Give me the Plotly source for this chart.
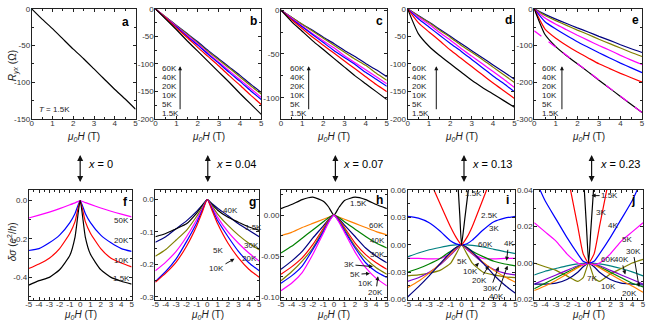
import plotly.graph_objects as go

W, H = 650, 329
FONT = "Liberation Sans, Arial, sans-serif"


def px(x):
    return x / W


def py(y):
    return 1 - y / H


# ---------------- data: top row (R_yx vs field) ----------------
XT = [0, 0.5, 1, 1.5, 2, 2.5, 3, 3.5, 4, 4.5, 5]
TEMPS_TOP = ["60K", "40K", "20K", "10K", "5K", "1.5K"]

a_1p5K = [0, -14, -27, -41, -55, -68, -82, -96, -110, -123, -137]

b_1p5K = [0, -19, -38, -58, -77, -96, -115, -134, -154, -173, -192]
b_5K = [0, -17, -35, -52, -70, -87, -104, -122, -139, -157, -174]
b_10K = [0, -17, -33, -50, -66, -83, -99, -116, -132, -149, -165]
b_20K = [0, -16, -32, -48, -64, -81, -97, -113, -129, -145, -161]
b_40K = [0, -15, -31, -46, -62, -78, -93, -108, -124, -140, -155]
b_60K = [0, -15, -30, -45, -60, -76, -91, -106, -121, -137, -152]

c_1p5K = [0, -13, -24, -35, -45, -55, -65, -75, -84, -93, -102]
c_5K = [0, -11, -21, -31, -40, -49, -58, -67, -76, -85, -93]
c_10K = [0, -10, -19, -28, -37, -46, -54, -62, -71, -79, -87]
c_20K = [0, -9, -18, -27, -35, -43, -52, -60, -68, -76, -84]
c_40K = [0, -8, -16, -24, -32, -40, -48, -56, -63, -72, -80]
c_60K = [0, -8, -16, -23, -31, -38, -46, -53, -61, -68, -76]

d_1p5K = [0, -45, -68, -85, -100, -115, -130, -143, -155, -167, -179]
d_5K = [0, -25, -42, -58, -75, -90, -105, -120, -135, -149, -163]
d_10K = [0, -18, -33, -48, -63, -77, -92, -107, -122, -136, -151]
d_20K = [0, -15, -28, -43, -57, -72, -86, -100, -114, -128, -143]
d_40K = [0, -13, -25, -39, -52, -66, -79, -92, -106, -120, -134]
d_60K = [0, -12, -24, -37, -50, -63, -76, -89, -102, -115, -128]

e_1p5K = [0, -70, -103, -128, -150, -172, -195, -217, -239, -261, -283]
e_5K = [0, -55, -80, -100, -118, -134, -150, -163, -176, -188, -200]
e_10K = [0, -35, -55, -73, -90, -105, -120, -134, -148, -161, -174]
e_20K = [0, -25, -42, -57, -72, -86, -100, -113, -127, -140, -152]
e_40K = [0, -18, -32, -45, -58, -70, -83, -95, -107, -119, -130]
e_60K = [0, -15, -28, -40, -52, -63, -75, -86, -98, -109, -119]
e_fit_x = [0, 5]
e_fit_y = [-60, -283]

# ---------------- data: bottom row (delta sigma vs field) ----------------
XB = [-5, -4, -3, -2, -1, -0.5, 0, 0.5, 1, 2, 3, 4, 5]

f_50K = [-0.091, -0.076, -0.060, -0.042, -0.022, -0.012, 0, -0.011, -0.020, -0.039, -0.056, -0.071, -0.085]
f_20K = [-0.26, -0.25, -0.22, -0.18, -0.115, -0.067, 0, -0.067, -0.115, -0.18, -0.22, -0.25, -0.265]
f_10K = [-0.354, -0.33, -0.30, -0.25, -0.17, -0.11, 0, -0.11, -0.17, -0.25, -0.30, -0.325, -0.345]
f_1p5K = [-0.44, -0.417, -0.40, -0.36, -0.285, -0.19, 0, -0.19, -0.28, -0.36, -0.40, -0.42, -0.435]

g_40K = [-0.132, -0.115, -0.09, -0.066, -0.036, -0.018, 0, -0.014, -0.027, -0.05, -0.075, -0.095, -0.115]
g_1p5K = [-0.115, -0.105, -0.09, -0.075, -0.041, -0.02, 0, -0.017, -0.033, -0.055, -0.07, -0.085, -0.095]
g_30K = [-0.175, -0.154, -0.125, -0.095, -0.051, -0.025, 0, -0.022, -0.045, -0.08, -0.11, -0.135, -0.155]
g_20K = [-0.22, -0.193, -0.16, -0.115, -0.061, -0.03, 0, -0.027, -0.055, -0.1, -0.135, -0.165, -0.19]
g_5K = [-0.253, -0.222, -0.183, -0.13, -0.071, -0.035, 0, -0.032, -0.065, -0.115, -0.16, -0.195, -0.22]
g_10K = [-0.255, -0.227, -0.193, -0.144, -0.08, -0.04, 0, -0.037, -0.075, -0.135, -0.18, -0.215, -0.24]

h_1p5K = [0.008, 0.013, 0.019, 0.022, 0.017, 0.01, 0, 0.01, 0.018, 0.022, 0.019, 0.013, 0.008]
h_60K = [-0.025, -0.021, -0.015, -0.01, -0.005, -0.0025, 0, -0.0025, -0.005, -0.01, -0.015, -0.02, -0.024]
h_40K = [-0.046, -0.038, -0.028, -0.018, -0.008, -0.003, 0, -0.003, -0.008, -0.017, -0.026, -0.034, -0.04]
h_30K = [-0.066, -0.056, -0.044, -0.028, -0.013, -0.005, 0, -0.005, -0.012, -0.026, -0.04, -0.05, -0.058]
h_3K = [-0.072, -0.063, -0.052, -0.036, -0.016, -0.006, 0, -0.006, -0.015, -0.034, -0.048, -0.058, -0.066]
h_10K = [-0.08, -0.069, -0.056, -0.04, -0.018, -0.007, 0, -0.007, -0.017, -0.038, -0.053, -0.064, -0.072]
h_5K = [-0.083, -0.074, -0.062, -0.042, -0.02, -0.008, 0, -0.008, -0.019, -0.04, -0.058, -0.069, -0.076]
h_20K = [-0.092, -0.083, -0.07, -0.048, -0.022, -0.009, 0, -0.009, -0.021, -0.045, -0.064, -0.077, -0.086]

i_1p5K_x = [-0.5, -0.3, -0.15, 0, 0.3, 0.55, 0.8]
i_1p5K = [0.1, 0.06, 0.03, 0, 0.028, 0.052, 0.075]
i_2p5K = [0.13, 0.10, 0.072, 0.045, 0.019, 0.008, 0, 0.008, 0.02, 0.05, 0.08, 0.11, 0.14]
i_3K = [0.031, 0.029, 0.024, 0.015, 0.004, 0.001, 0, 0.001, 0.005, 0.016, 0.025, 0.029, 0.031]
i_4K = [-0.015, -0.015, -0.0155, -0.015, -0.01, -0.005, 0, -0.005, -0.01, -0.015, -0.0155, -0.015, -0.015]
i_60K = [-0.0133, -0.009, -0.0055, -0.003, -0.0008, -0.0002, 0, -0.0002, -0.0008, -0.0025, -0.005, -0.0075, -0.0097]
i_5K = [-0.034, -0.033, -0.031, -0.028, -0.02, -0.01, 0, -0.01, -0.02, -0.03, -0.033, -0.035, -0.036]
i_10K = [-0.040, -0.036, -0.030, -0.022, -0.011, -0.005, 0, -0.005, -0.01, -0.02, -0.027, -0.031, -0.033]
i_20K = [-0.030, -0.026, -0.021, -0.015, -0.007, -0.003, 0, -0.003, -0.007, -0.013, -0.018, -0.021, -0.023]
i_30K = [-0.047, -0.040, -0.031, -0.021, -0.010, -0.004, 0, -0.004, -0.009, -0.019, -0.028, -0.035, -0.041]
i_40K = [-0.057, -0.046, -0.034, -0.021, -0.008, -0.003, 0, -0.003, -0.008, -0.02, -0.033, -0.044, -0.053]

j_1p5K_x = [-0.6, -0.4, -0.2, 0, 0.2, 0.45, 0.65]
j_1p5K = [0.06, 0.04, 0.02, 0, 0.018, 0.04, 0.058]
j_3K = [0.14, 0.11, 0.08, 0.05, 0.02, 0.005, 0, 0.005, 0.02, 0.05, 0.08, 0.11, 0.14]
j_4K = [0.047, 0.034, 0.024, 0.014, 0.005, 0.001, 0, 0.001, 0.005, 0.014, 0.024, 0.034, 0.047]
j_5K = [0.022, 0.017, 0.012, 0.005, 0.0, -0.001, 0, -0.001, 0.0, 0.005, 0.012, 0.017, 0.022]
j_7K = [0.0, -0.002, -0.004, -0.007, -0.01, -0.008, 0, -0.008, -0.01, -0.006, -0.003, 0.0, 0.002]
j_10K = [-0.0115, -0.0115, -0.011, -0.009, -0.005, -0.002, 0, -0.002, -0.005, -0.009, -0.011, -0.0115, -0.012]
j_30K = [-0.0115, -0.009, -0.0065, -0.004, -0.0015, -0.0005, 0, -0.0005, -0.0015, -0.004, -0.0065, -0.009, -0.0115]
j_40K = [-0.014, -0.011, -0.008, -0.005, -0.002, -0.0008, 0, -0.0008, -0.002, -0.005, -0.008, -0.011, -0.013]
j_20K = [-0.015, -0.0125, -0.0095, -0.006, -0.0025, -0.001, 0, -0.001, -0.0025, -0.006, -0.0095, -0.0125, -0.016]
j_60K = [-0.0065, -0.0045, -0.003, -0.0015, -0.0004, -0.0001, 0, -0.0001, -0.0004, -0.0015, -0.003, -0.0048, -0.007]

C = dict(black="#000000", red="#ff0000", blue="#0000ff", magenta="#ff00ff",
         olive="#808000", navy="#000080", orange="#ff8000", green="#008000",
         purple="#8000d0", teal="#008080")

# panel: (n, xpx0, xpx1, row, yrange, ytickvals, yticktext, yminor)
TOP = (5, 118)
BOT = (191, 304)
panels = [
    (1, 28, 133, TOP, [-150, 0], [0, -50, -100, -150], ["0", "-50", "-100", "-150"], 25),
    (2, 153, 260, TOP, [-200, 0], [0, -50, -100, -150, -200], ["0", "-50", "-100", "-150", "-200"], 25),
    (3, 280, 387, TOP, [-124, 1.5], [0, -50, -100], ["0", "-50", "-100"], 25),
    (4, 408, 516, TOP, [-200, 0], [0, -50, -100, -150, -200], ["0", "-50", "-100", "-150", "-200"], 25),
    (5, 536, 645, TOP, [-300, 0], [0, -100, -200, -300], ["0", "-100", "-200", "-300"], 50),
    (6, 25, 129, BOT, [-0.516, 0.056], [0, -0.2, -0.4], ["0.0", "-0.2", "-0.4"], 0.1),
    (7, 153, 258, BOT, [-0.309, 0.03], [0, -0.1, -0.2, -0.3], ["0.0", "-0.1", "-0.2", "-0.3"], 0.05),
    (8, 280, 387, BOT, [-0.103, 0.031], [0, -0.05, -0.10], ["0.00", "-0.05", "-0.10"], 0.025),
    (9, 408, 517, BOT, [-0.06, 0.06], [0.06, 0.03, 0, -0.03, -0.06], ["0.06", "0.03", "0.00", "-0.03", "-0.06"], 0.015),
    (10, 536, 646, BOT, [-0.02, 0.04], [0.04, 0.02, 0, -0.02], ["0.04", "0.02", "0.00", "-0.02"], 0.01),
]

fig = go.Figure()


def add(n, x, y, color, dash="solid", width=1.2):
    s = "" if n == 1 else str(n)
    fig.add_trace(go.Scatter(x=x, y=y, mode="lines", xaxis="x" + s, yaxis="y" + s,
                             line=dict(color=color, width=width, dash=dash,
                                       shape="spline", smoothing=0.5),
                             showlegend=False, hoverinfo="skip"))


# top row traces
add(1, XT, a_1p5K, C["black"])
for n, series in [(2, [b_60K, b_40K, b_20K, b_10K, b_5K, b_1p5K]),
                  (3, [c_60K, c_40K, c_20K, c_10K, c_5K, c_1p5K]),
                  (4, [d_60K, d_40K, d_20K, d_10K, d_5K, d_1p5K]),
                  (5, [e_60K, e_40K, e_20K, e_10K, e_5K, e_1p5K])]:
    for yv, col in zip(series, ["navy", "olive", "magenta", "blue", "red", "black"]):
        add(n, XT, yv, C[col])
add(5, e_fit_x, e_fit_y, C["magenta"], dash="dash")

# bottom row traces
for yv, col in [(f_50K, "magenta"), (f_20K, "blue"), (f_10K, "red"), (f_1p5K, "black")]:
    add(6, XB, yv, C[col])
for yv, col in [(g_40K, "navy"), (g_1p5K, "black"), (g_30K, "olive"), (g_20K, "magenta"),
                (g_5K, "blue"), (g_10K, "red")]:
    add(7, XB, yv, C[col])
for yv, col in [(h_1p5K, "black"), (h_60K, "orange"), (h_40K, "green"), (h_30K, "navy"),
                (h_3K, "red"), (h_10K, "olive"), (h_5K, "blue"), (h_20K, "magenta")]:
    add(8, XB, yv, C[col])
for yv, col in [(i_60K, "teal"), (i_4K, "magenta"), (i_20K, "green"), (i_5K, "olive"),
                (i_10K, "purple"), (i_30K, "orange"), (i_40K, "navy"), (i_3K, "blue"),
                (i_2p5K, "red")]:
    add(9, XB, yv, C[col])
add(9, i_1p5K_x, i_1p5K, C["black"])
for yv, col in [(j_60K, "teal"), (j_7K, "olive"), (j_30K, "purple"), (j_10K, "navy"),
                (j_40K, "green"), (j_20K, "orange"), (j_5K, "magenta"), (j_4K, "blue"),
                (j_3K, "red")]:
    add(10, XB, yv, C[col])
add(10, j_1p5K_x, j_1p5K, C["black"])

layout = dict(width=W, height=H, autosize=False, margin=dict(l=0, r=0, t=0, b=0),
              paper_bgcolor="white", plot_bgcolor="white", showlegend=False)

tickfont = dict(family=FONT, size=8, color="#333333")
for n, x0, x1, row, yr, yv, yt, ymin in panels:
    s = "" if n == 1 else str(n)
    top = row is TOP
    xr = [0, 5] if top else [-5, 5]
    xv = list(range(0, 6)) if top else list(range(-5, 6))
    layout["xaxis" + s] = dict(
        domain=[px(x0), px(x1)], range=xr, anchor="y" + s,
        tickvals=xv, ticktext=[str(v) for v in xv], ticks="inside", ticklen=3,
        tickcolor="#222", tickwidth=1, ticklabelstandoff=-3,
        minor=dict(tick0=0, dtick=0.5, ticks="inside", ticklen=2, tickcolor="#222"),
        showline=True, linecolor="#222", linewidth=1, mirror="ticks",
        showgrid=False, zeroline=False, tickfont=tickfont, fixedrange=True)
    layout["yaxis" + s] = dict(
        domain=[py(row[1]), py(row[0])], range=yr, anchor="x" + s,
        tickvals=yv, ticktext=yt, ticks="inside", ticklen=3, tickcolor="#222", tickwidth=1,
        ticklabelstandoff=-1,
        minor=dict(tick0=0, dtick=ymin, ticks="inside", ticklen=2, tickcolor="#222"),
        showline=True, linecolor="#222", linewidth=1, mirror="ticks",
        showgrid=False, zeroline=False, tickfont=tickfont, fixedrange=True)

ann = []


def txt(x, y, s, size=8, xanchor="center", color="#222222", angle=0):
    ann.append(dict(x=px(x), y=py(y), xref="paper", yref="paper", text=s,
                    showarrow=False, textangle=angle,
                    font=dict(size=size, family=FONT, color=color),
                    xanchor=xanchor, yanchor="middle"))


def arr(tx, ty, hx, hy, s, size=8, both=False, width=1.0, head=2, asize=0.8):
    ann.append(dict(x=px(hx), y=py(hy), xref="paper", yref="paper",
                    ax=tx - hx, ay=ty - hy, text=s, showarrow=True,
                    arrowhead=head, arrowsize=asize, arrowwidth=width, arrowcolor="#111",
                    startarrowhead=head, startarrowsize=asize,
                    arrowside="end+start" if both else "end",
                    font=dict(size=size, family=FONT, color="#222222")))


# axis titles
XTITLE = "<i>μ<sub>0</sub>H</i> (T)"
for n, x0, x1, row, *_ in panels:
    ty = 137 if row is TOP else 320
    txt((x0 + x1) / 2, ty, XTITLE, size=10)
txt(9, 63, "<i>R</i><sub><i>yx</i></sub> (Ω)", size=10, angle=-90)
txt(8, 244, "<i>δσ</i> (<i>e</i><sup>2</sup>/<i>h</i>)", size=10, angle=-90)

# panel letters
for lab, x, y in [("a", 123, 18), ("b", 252, 17), ("c", 380, 17), ("d", 510, 16), ("e", 638, 16),
                  ("f", 123, 204), ("g", 251, 204), ("h", 380, 201), ("i", 509, 201), ("j", 636, 201)]:
    txt(x, y, "<b>" + lab + "</b>", size=12, color="#000")

txt(33, 108, "<i>T</i> = 1.5K", size=8, xanchor="left")

# temperature stacks in top row
for tx, axx in [(158, 178), (287, 308), (410, 437), (542, 564)]:
    for k, lab in enumerate(TEMPS_TOP):
        txt(tx, 66 + k * 9.3, lab, size=8, xanchor="left")
    arr(axx, 113, axx, 64, " ", width=1.0)

# composition arrows between rows
for xc, lab in [(77, "0"), (206, "0.04"), (335, "0.07"), (465, "0.13"), (594, "0.23")]:
    arr(xc, 150, xc, 183, " ", both=True, width=1.2, asize=1.0)
    txt(xc + 6, 165, "<i>x</i> = " + lab, size=11, xanchor="left", color="#000")

# labels f
for lab, y in [("50K", 223), ("20K", 243), ("10K", 264), ("1.5K", 282)]:
    txt(119, y, lab)
# labels g
txt(229, 212, "40K")
txt(252, 230, "1.5K")
txt(250, 248, "30K")
txt(248, 262, "20K")
txt(216, 253, "5K")
arr(215, 272, 233, 262, "10K")
# labels h
txt(358, 205, "1.5K")
txt(377, 228, "60K")
txt(378, 243, "40K")
txt(378, 258, "30K")
arr(349, 268, 373, 270, "3K")
arr(355, 278, 370, 277, "5K")
txt(365, 287, "10K")
arr(376, 296, 378, 280, "20K")
# labels i
txt(475, 195, "1.5K")
txt(491, 217, "2.5K")
txt(495, 231, "3K")
txt(487, 247, "60K")
arr(510, 247, 508, 264, "4K")
txt(463, 265, "5K")
arr(472, 275, 480, 266, "10K")
arr(481, 284, 490, 269, "20K")
arr(492, 292, 500, 270, "30K")
arr(498, 300, 509, 269, "40K")
# labels j
arr(612, 197, 594, 197, "1.5K")
txt(604, 214, "3K")
txt(616, 228, "4K")
txt(630, 242, "5K")
arr(636, 255, 642, 291, "30K")
txt(611, 263, "60K")
arr(624, 263, 628, 278, "40K")
txt(594, 282, "7K")
txt(611, 290, "10K")
txt(632, 298, "20K")

layout["annotations"] = ann
fig.update_layout(**layout)
fig.write_html("out.html")
